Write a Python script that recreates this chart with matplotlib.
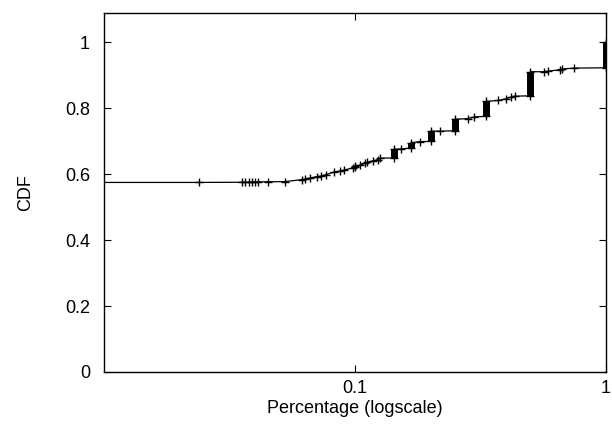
import numpy as np
import matplotlib.pyplot as plt

plt.rcParams['font.family'] = ['Liberation Sans', 'DejaVu Sans']

# CDF points (sorted percentage, cumulative fraction)
x_pts = [0.005, 0.0238, 0.0355, 0.0366, 0.0377, 0.0388, 0.0398, 0.0412, 0.0452,
         0.0526, 0.0613, 0.0632, 0.0662, 0.0704, 0.0730, 0.0766, 0.0825, 0.0871,
         0.0904, 0.0985, 0.100, 0.100, 0.1047, 0.1099, 0.112, 0.118, 0.124, 0.126,
         0.1429, 0.1429, 0.153, 0.1667, 0.1667, 0.181, 0.200, 0.200, 0.219,
         0.250, 0.250, 0.283, 0.298, 0.3333, 0.3333, 0.372, 0.400, 0.420, 0.434,
         0.500, 0.500, 0.565, 0.590, 0.655, 0.665, 0.745, 1.0, 1.0]
y_pts = [0.5745, 0.5745, 0.575, 0.5752, 0.5755, 0.5757, 0.576, 0.5762, 0.5765,
         0.577, 0.583, 0.585, 0.588, 0.592, 0.594, 0.598, 0.606, 0.609,
         0.612, 0.619, 0.620, 0.624, 0.627, 0.633, 0.636, 0.640, 0.644, 0.648,
         0.649, 0.675, 0.676, 0.679, 0.695, 0.698, 0.699, 0.730, 0.730,
         0.731, 0.766, 0.768, 0.773, 0.775, 0.820, 0.823, 0.828, 0.834, 0.836,
         0.837, 0.910, 0.910, 0.912, 0.916, 0.918, 0.921, 0.922, 1.0]

# values where many samples share the same percentage (stacked markers)
bar_x = [0.1429, 0.1667, 0.200, 0.250, 0.3333, 0.500, 1.0]
bar_lo = [0.649, 0.679, 0.699, 0.731, 0.775, 0.837, 0.922]
bar_hi = [0.675, 0.695, 0.730, 0.766, 0.820, 0.910, 1.0]

fig = plt.figure(figsize=(6.12, 4.28), dpi=100)
ax = fig.add_axes([104 / 612, 56 / 428, 502 / 612, 359 / 428])

ax.plot(x_pts, y_pts, color='black', linewidth=0.9, marker='+',
        markersize=6, markeredgewidth=1.0)
ax.vlines(bar_x, bar_lo, bar_hi, color='black', linewidth=5)

ax.set_xscale('log')
ax.set_xlim(0.01, 1)
ax.set_ylim(0, 1.088)
ax.set_xticks([0.1, 1])
ax.set_xticklabels(['0.1', '1'])
ax.minorticks_off()
ax.set_yticks([0, 0.2, 0.4, 0.6, 0.8, 1])
ax.set_yticklabels(['0', '0.2', '0.4', '0.6', '0.8', '1'])
ax.tick_params(direction='in', length=5, width=0.8, labelsize=13,
               top=True, right=True)
ax.tick_params(axis='x', pad=6)
ax.tick_params(axis='y', pad=10)
for s in ax.spines.values():
    s.set_linewidth(1.0)

ax.set_xlabel('Percentage (logscale)', fontsize=13, labelpad=2)
ax.set_ylabel('CDF', fontsize=13, labelpad=22)

fig.savefig('out.png', dpi=100)
